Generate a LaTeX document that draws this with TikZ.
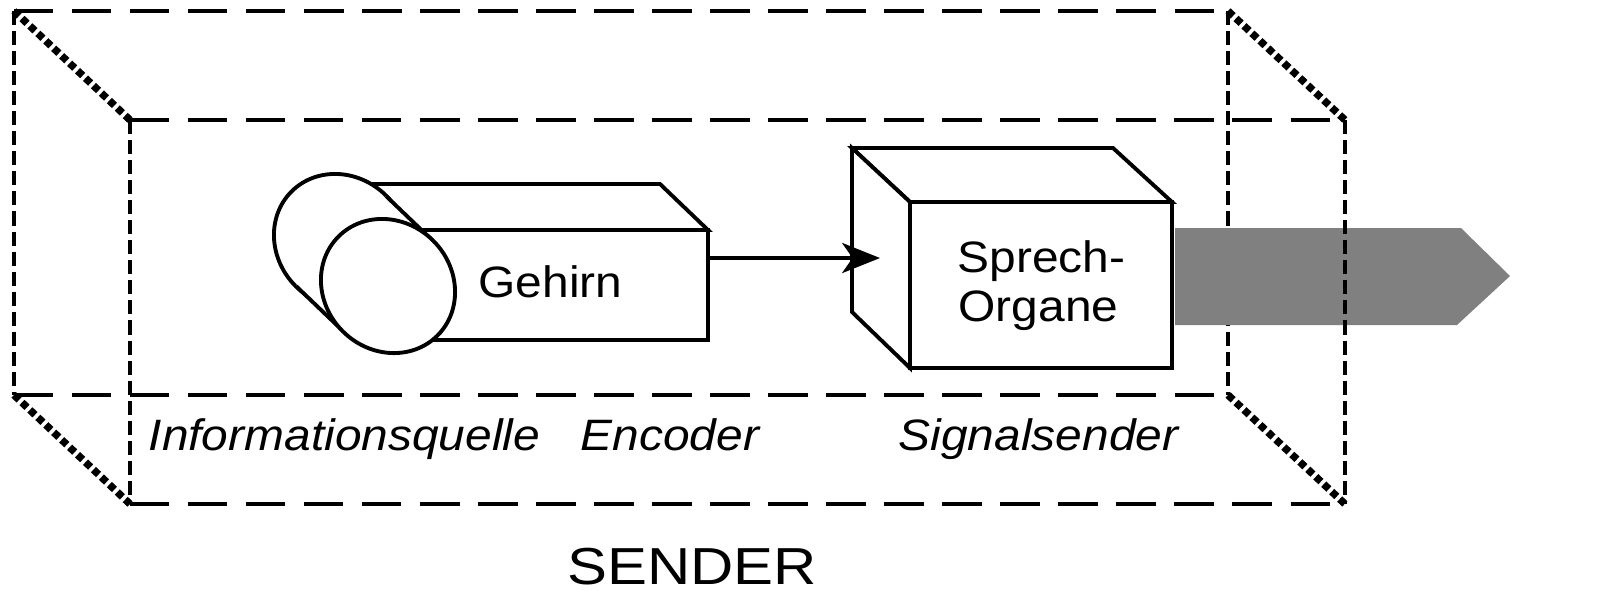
\documentclass[tikz,border=0pt]{standalone}
\usepackage{fontspec}
\usepackage{graphicx}
\setmainfont{Liberation Sans}
\usetikzlibrary{arrows.meta}
\definecolor{arrowgray}{HTML}{808080}
\newcommand{\widetext}[2]{\scalebox{#1}[1]{#2}}
\begin{document}
\begin{tikzpicture}[x=0.01cm,y=-0.01cm,
  hdash/.style={line width=1.4pt, dash pattern=on 11.2pt off 5.3pt},
  vdash/.style={line width=1.4pt, dash pattern=on 4pt off 1.7pt},
  dotline/.style={line width=2.1pt, dash pattern=on 2.0pt off 1.1pt},
  solidline/.style={line width=1.1pt, line join=miter},
  whitepart/.style={solidline, fill=white},
  lbl/.style={font=\fontsize{12.5}{15}\selectfont, inner sep=0pt},
  ilbl/.style={font=\fontsize{12.5}{15}\selectfont\itshape, inner sep=0pt},
  biglbl/.style={font=\fontsize{14.8}{17.8}\selectfont, inner sep=0pt},
  flowarrow/.style={line width=0.9pt, -{Stealth[length=10.8pt,width=8.6pt,inset=3pt]}}
]
\useasboundingbox (0,0) rectangle (1600,590);

% corners of the sender box
\coordinate (A) at (14,11);   \coordinate (B) at (1228,11);
\coordinate (C) at (1228,395); \coordinate (D) at (14,395);
\coordinate (E) at (130,120);  \coordinate (F) at (1345,120);
\coordinate (G) at (1345,504); \coordinate (H) at (130,504);

% back rectangle
\draw[hdash] (A) -- (B);
\draw[hdash] (D) -- (C);
\draw[vdash] (A) -- (D);
\draw[vdash] (B) -- (C);
% depth edges
\draw[dotline] (A) -- (E);
\draw[dotline] (B) -- (F);
\draw[dotline] (D) -- (H);
\draw[dotline] (C) -- (G);

% Gehirn: cuboid
\draw[whitepart] (345,184) -- (660,184) -- (708,230) -- (400,230) -- cycle;
\draw[whitepart] (380,230) -- (708,230) -- (708,340) -- (380,340) -- cycle;
% Gehirn: cylinder
\draw[whitepart] (341,241) ellipse [x radius=70, y radius=64, rotate=-45];
\fill[white] (296,286) -- (386,196) -- (433,241) -- (343,331) -- cycle;
\draw[solidline] (386,196) -- (433,241);
\draw[solidline] (296,286) -- (343,331);
\draw[whitepart] (388,286) ellipse [x radius=70, y radius=64, rotate=-45];
\node[lbl, anchor=base west] (gehirn) at (478,297) {\widetext{1.09}{Gehirn}};

% Sprech-Organe cuboid
\coordinate (P) at (852,148); \coordinate (Q) at (1113,148);
\coordinate (R) at (910,202); \coordinate (S) at (1172,202);
\coordinate (T) at (1172,368); \coordinate (U) at (910,368);
\coordinate (V) at (852,312);
\draw[whitepart] (P) -- (Q) -- (S) -- (R) -- cycle;
\draw[whitepart] (P) -- (R) -- (U) -- (V) -- cycle;
\draw[whitepart] (R) -- (S) -- (T) -- (U) -- cycle;
\node[lbl, anchor=base west] (sprech1) at (957,272) {\widetext{1.09}{Sprech-}};
\node[lbl, anchor=base west] (sprech2) at (958,321) {\widetext{1.09}{Organe}};

% connector
\coordinate (gout) at (708,258);
\coordinate (sin) at (880,258);
\draw[flowarrow] (gout) -- (sin);

% grey signal arrow
\fill[arrowgray] (1175,228) -- (1461,228) -- (1510,276) -- (1457,325) -- (1175,325) -- cycle;

% front rectangle
\draw[hdash] (E) -- (F);
\draw[hdash] (H) -- (G);
\draw[vdash] (E) -- (H);
\draw[vdash] (F) -- (G);

% labels
\node[ilbl, anchor=base west] (infq) at (148,450) {\widetext{1.09}{Informationsquelle}};
\node[ilbl, anchor=base west] (enc) at (580,450) {\widetext{1.09}{Encoder}};
\node[ilbl, anchor=base west] (sig) at (898,450) {\widetext{1.09}{Signalsender}};
\node[biglbl, anchor=base] (sender) at (692,584) {\widetext{1.15}{SENDER}};
\end{tikzpicture}
\end{document}
